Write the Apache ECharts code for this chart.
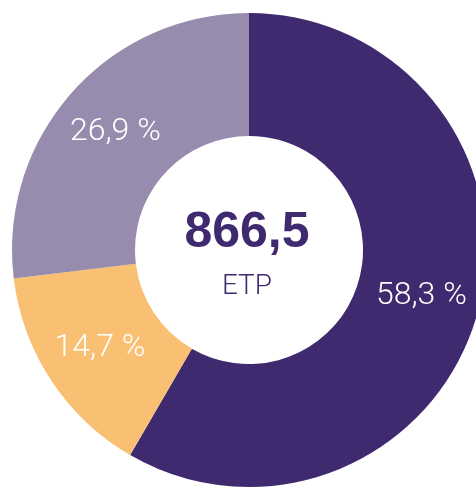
<!DOCTYPE html>
<html>
<head>
<meta charset="utf-8">
<script src="https://cdn.jsdelivr.net/npm/echarts@6/dist/echarts.min.js"></script>
<style>
  html, body { margin: 0; padding: 0; background: #fff; }
  #chart { width: 476px; height: 487px; }
</style>
</head>
<body>
<div id="chart"></div>
<script>
// parts of the total (%), clockwise from 12 o'clock
const categories = ['Part 1', 'Part 2', 'Part 3'];
const shares = [58.3, 14.7, 26.9];
const colors = ['#402a6f', '#f9bf72', '#978bae'];
const totalLabel = '866,5';
const unitLabel = 'ETP';

const myChart = echarts.init(document.getElementById('chart'));

const option = {
  animation: false,
  graphic: [
    {
      type: 'text',
      style: {
        x: 247, y: 233,
        text: totalLabel,
        fill: '#402a6f',
        fontFamily: 'Liberation Sans',
        fontWeight: 'bold',
        fontSize: 50,
        textAlign: 'center',
        textVerticalAlign: 'middle'
      }
    },
    {
      type: 'text',
      style: {
        x: 247, y: 287,
        text: unitLabel,
        fill: '#402a6f',
        fontFamily: 'Roboto',
        fontWeight: 300,
        fontSize: 28,
        textAlign: 'center',
        textVerticalAlign: 'middle'
      }
    }
  ],
  series: [
    {
      type: 'pie',
      center: [249, 250],
      radius: [114, 237],
      startAngle: 90,
      clockwise: true,
      data: categories.map((c, i) => ({
        name: c,
        value: shares[i],
        itemStyle: { color: colors[i] }
      })),
      label: {
        position: 'inside',
        color: '#fff',
        fontSize: 32,
        fontWeight: 300,
        fontFamily: 'Roboto',
        formatter: p => p.value.toFixed(1).replace('.', ',') + ' %'
      },
      labelLine: { show: false },
      emphasis: { disabled: true }
    }
  ]
};

myChart.setOption(option);
</script>
</body>
</html>
